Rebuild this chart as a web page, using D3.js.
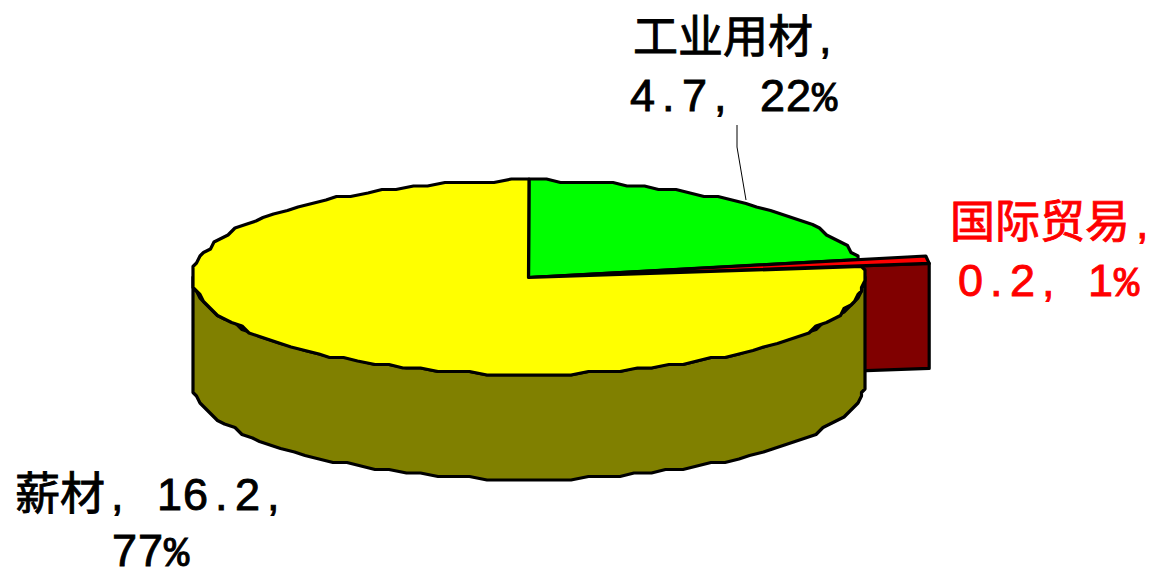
<!DOCTYPE html>
<meta charset="utf-8">
<style>
    body { margin: 0; background: white; }
    svg { display: block; }
    .outline { stroke: black; stroke-width: 3.2; stroke-linejoin: round; }
    text { font-family: "Liberation Sans", "Noto Sans CJK SC", sans-serif; stroke-width: 0.9; white-space: pre; }
    .pct { font-family: "Liberation Mono", monospace; }
</style>
<body>
<script src="https://cdn.jsdelivr.net/npm/d3@7"></script>
<script>
    const names = ["工业用材", "国际贸易", "薪材"];
    const values = [4.7, 0.2, 16.2];
    const topColors = ["#00ff00", "#ff0000", "#ffff00"];
    const sideColors = ["#008000", "#800000", "#808000"];
    const labelLines = [
        ["工业用材,", "4.7, 22%"],
        ["国际贸易,", "0.2, 1%"],
        ["薪材, 16.2,", "77%"]
    ];
    const labelColors = ["black", "red", "black"];

    const width = 1149, height = 569;
    const cx = 528.5, cy = 277.5, rx = 336, ry = 97, depth = 105;
    const explodeX = 1.2, explodeY = 1.3; // the small slice sticks out past the rim

    const svg = d3.select("body").append("svg").attr("width", width).attr("height", height);

    const slices = d3.pie().sort(null)(values);
    const line = d3.line();

    // the original is a coarse metafile, so the rim is snapped to a grid
    const snap = v => Math.round((v - 0.5) / 3.5) * 3.5 + 0.5;
    const rim = (a, dy = 0) => [
        snap(cx + rx * Math.sin(a)),
        snap(cy - ry * Math.cos(a)) + dy
    ];
    const arcPts = (a0, a1, dy) => d3.range(0, 1.0001, 1 / Math.max(1, Math.round((a1 - a0) / 0.05)))
        .map(t => rim(a0 + (a1 - a0) * t, dy));
    const outer = a => [cx + rx * explodeX * Math.sin(a), cy - ry * explodeY * Math.cos(a)];

    const draw = (pts, fill) => svg.append("path")
        .attr("class", "outline")
        .attr("d", line(pts) + "Z")
        .attr("fill", fill);

    const [green, red, yellow] = slices;

    // cut face of the exploded slice
    const redEnd = outer(red.endAngle);
    draw([[cx, cy], redEnd, [redEnd[0], redEnd[1] + depth], [cx, cy + depth]], sideColors[1]);

    // tops of green and red
    draw([[cx, cy]].concat(arcPts(green.startAngle, green.endAngle, 0)), topColors[0]);
    draw([[cx, cy], outer(red.startAngle), redEnd], topColors[1]);

    // front wall of the yellow slice
    const wallTop = arcPts(Math.PI / 2, Math.PI * 1.5, 0);
    const wallBottom = arcPts(Math.PI / 2, Math.PI * 1.5, depth).reverse();
    draw(wallTop.concat(wallBottom), sideColors[2]);

    draw([[cx, cy]].concat(arcPts(yellow.startAngle, yellow.endAngle, 0)), topColors[2]);

    // leader line for the green label
    svg.append("path")
        .attr("d", line([[737, 125], [737, 147], [746, 200]]))
        .attr("fill", "none")
        .attr("stroke", "black")
        .attr("stroke-width", 1);

    // labels: full width hanzi on a 45px pitch, latin on a 26px pitch
    const labelStart = [[633, 53], [950, 238], [15, 510]];
    const lineGap = [58, 58, 56];
    const secondLineX = [630, 958, 112];

    labelLines.forEach((lines, i) => {
        lines.forEach((str, j) => {
            let x = j === 0 ? labelStart[i][0] : secondLineX[i];
            const xs = [];
            const runs = [];
            for (const ch of str) {
                const kind = /[\u4e00-\u9fff]/.test(ch) ? "wide" : ch === "%" ? "pct" : "latin";
                xs.push(/[.,]/.test(ch) ? x + 6 : x);
                x += kind === "wide" ? 45 : 26;
                if (runs.length && runs[runs.length - 1].kind === kind) runs[runs.length - 1].s += ch;
                else runs.push({kind, s: ch});
            }
            const t = svg.append("text")
                .attr("x", xs.join(" "))
                .attr("y", labelStart[i][1] + j * lineGap[i])
                .attr("fill", labelColors[i])
                .attr("stroke", labelColors[i]);
            runs.forEach(r => t.append("tspan")
                .attr("class", r.kind === "pct" ? "pct" : null)
                .attr("font-size", r.kind === "pct" ? 42 : 45)
                .text(r.s));
        });
    });
</script>
</body>
</html>
